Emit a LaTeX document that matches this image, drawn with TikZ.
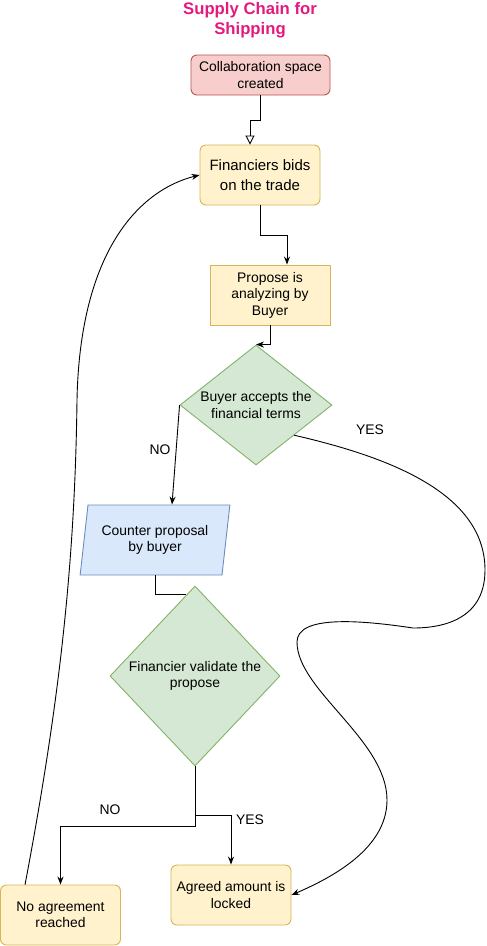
\documentclass[tikz,border=0pt]{standalone}
\usepackage{fontspec}
\setmainfont{Liberation Sans}
\usetikzlibrary{shapes,arrows.meta,calc}

\definecolor{titlepink}{HTML}{E3197F}
\definecolor{yfill}{HTML}{FFF2CC}
\definecolor{ystroke}{HTML}{D6B656}
\definecolor{rfill}{HTML}{F8CECC}
\definecolor{rstroke}{HTML}{B85450}
\definecolor{gfill}{HTML}{D5E8D4}
\definecolor{gstroke}{HTML}{82B366}
\definecolor{bfill}{HTML}{DAE8FC}
\definecolor{bstroke}{HTML}{6C8EBF}

\begin{document}
\begin{tikzpicture}[x=1pt,y=-1pt,line width=0.9pt]
\tikzstyle{every node}=[font=\fontsize{13.9}{16.5}\selectfont,align=center,inner sep=0pt]
\tikzstyle{card}=[rectangle,rounded corners=6pt,draw=ystroke,fill=yfill,minimum width=120pt,minimum height=60pt]
\tikzstyle{flat}=[rectangle,draw=ystroke,fill=yfill,minimum width=120pt,minimum height=60pt]
\tikzstyle{check}=[diamond,draw=gstroke,fill=gfill,aspect=1.27,minimum width=152pt,minimum height=120pt]
\tikzstyle{inbox}=[trapezium,trapezium left angle=78,trapezium right angle=102,trapezium stretches=true,draw=bstroke,fill=bfill,minimum width=150pt,minimum height=70pt]
\tikzstyle{link}=[-{Stealth[length=8pt,width=6pt]}]
\useasboundingbox (0,0) rectangle (487,946);

\node[text=titlepink,font=\bfseries\fontsize{16.7}{20.5}\selectfont] (title) at (250,20) {Supply Chain for\\Shipping};
\node[card,draw=rstroke,fill=rfill,minimum width=139pt,minimum height=40pt] (col) at (260.5,75) {Collaboration space\\created};
\node[card,font=\fontsize{15}{20}\selectfont] (fin) at (260,175) {Financiers bids\\on the trade};
\node[flat] (prop) at (270,295) {Propose is\\analyzing by\\Buyer};
\node[check] (acc) at (256,405) {Buyer accepts the\\financial terms};
\node[inbox] (cp) at (155,540) {Counter proposal\\by buyer};
\node[check,aspect=0.94,minimum width=170pt,minimum height=180pt] (val) at (195,676) {Financier validate the\\propose};
\node[card] (ag) at (231,895) {Agreed amount is\\locked};
\node[card] (nag) at (60.5,915) {No agreement\\reached};

% labels
\node (noup) at (160,450) {NO};
\node (yesup) at (370,430) {YES};
\node (nolow) at (110,810) {NO};
\node (yeslow) at (250,820) {YES};

% straight connectors
\draw[-{Triangle[open,length=9pt,width=9pt]}] (col.south) -- ++(0,25) -| ($(fin.north)+(-10,0)$);
\draw[link] (fin.south) -- ++(0,30) -| ($(prop.north)+(17,0)$);
\draw[link] (prop.south) |- (acc.north);
\draw[link] (acc.west) -- ($(cp.north)+(17,0)$);
\draw (cp.south) |- ($(val.north)!0.1!(val.west)$);
\draw[link] (val.south) -- ++(0,60) -| (nag.north);
\draw[link] ($(val.south)+(0,49)$) -| (ag.north);

% curved connectors
\coordinate (yesout) at ($(acc.east)!0.5!(acc.south)$);
\draw[link] (yesout) .. controls (380,455) and (485,490) .. (485,570)
  .. controls (485,615) and (450,628) .. (413,628)
  .. controls (360,620) and (297,615) .. (297,642)
  .. controls (297,690) and (387,740) .. (387,800)
  .. controls (387,840) and (350,870) .. (ag.east);
\coordinate (back) at ($(nag.north west)+(25,0)$);
\draw[link] (back) .. controls (60,700) and (75,560) .. (77,400)
  .. controls (80,250) and (140,190) .. (fin.west);
\end{tikzpicture}
\end{document}
